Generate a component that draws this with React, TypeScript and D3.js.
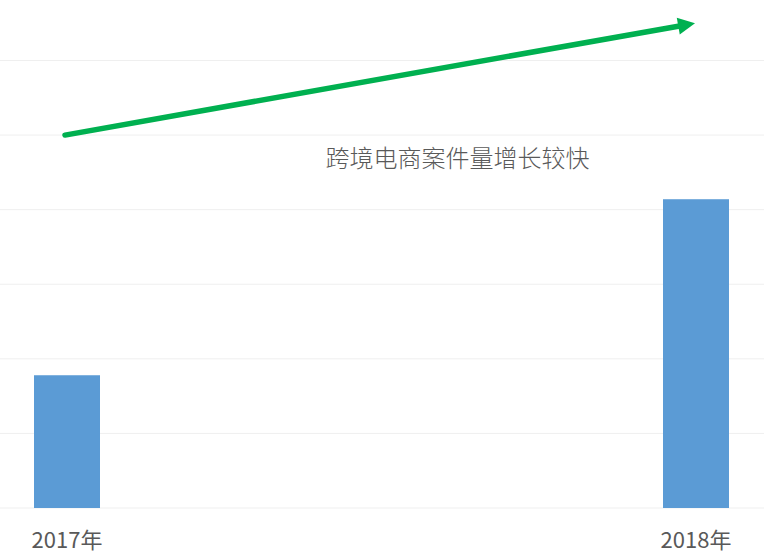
import * as d3 from "d3";

// categories and values (read in gridline units)
const years = ["2017年", "2018年"];
const cases = [1.78, 4.14];
const gridTicks = [0, 1, 2, 3, 4, 5, 6];

// trend arrow annotation, in data units
const arrowFrom = { year: "2017年", value: 5.0 };
const arrowTo = { year: "2018年", value: 6.5 };
const note = "跨境电商案件量增长较快";
const noteValue = 4.69;

const W = 764;
const H = 559;

export default function App() {
  const x = d3.scalePoint<string>().domain(years).range([67, 696]);
  const y = d3.scaleLinear().domain([0, 6]).range([508, 60.5]);
  const barW = 66;

  const x1 = x(arrowFrom.year)! - 2;
  const y1 = y(arrowFrom.value);
  const x2 = x(arrowTo.year)! - 1;
  const y2 = y(arrowTo.value);
  const ang = Math.atan2(y2 - y1, x2 - x1);
  const headLen = 17;
  const headHalf = 8.5;
  // base of head
  const bx = x2 - headLen * Math.cos(ang);
  const by = y2 - headLen * Math.sin(ang);
  const px = -Math.sin(ang) * headHalf;
  const py = Math.cos(ang) * headHalf;
  const head = `M${x2},${y2}L${bx + px},${by + py}L${bx - px},${by - py}Z`;

  return (
    <svg
      width={W}
      height={H}
      style={{ position: "absolute", left: 0, top: 0, background: "#fff" }}
    >
      <g>
        {gridTicks.map((t) => (
          <line
            key={t}
            x1={0}
            x2={W}
            y1={y(t)}
            y2={y(t)}
            stroke="#efefef"
            strokeWidth={1}
          />
        ))}
      </g>
      <g>
        {years.map((yr, i) => (
          <rect
            key={yr}
            x={x(yr)! - barW / 2}
            y={y(cases[i])}
            width={barW}
            height={y(0) - y(cases[i])}
            fill="#5B9BD5"
          />
        ))}
      </g>
      <g>
        {years.map((yr) => (
          <text
            key={yr}
            x={x(yr)!}
            y={548}
            textAnchor="middle"
            fontFamily="'Noto Sans CJK SC', 'Open Sans', sans-serif"
            fontSize={22}
            fill="#595959"
          >
            {yr}
          </text>
        ))}
      </g>
      <line
        x1={x1}
        y1={y1}
        x2={bx}
        y2={by}
        stroke="#00B050"
        strokeWidth={5.5}
        strokeLinecap="round"
      />
      <path d={head} fill="#00B050" />
      <text
        x={(x(years[0])! + x(years[1])!) / 2 + 76}
        y={y(noteValue) + 9}
        textAnchor="middle"
        fontFamily="'Noto Sans CJK SC', sans-serif"
        fontWeight={300}
        fontSize={24}
        fill="#595959"
      >
        {note}
      </text>
    </svg>
  );
}
